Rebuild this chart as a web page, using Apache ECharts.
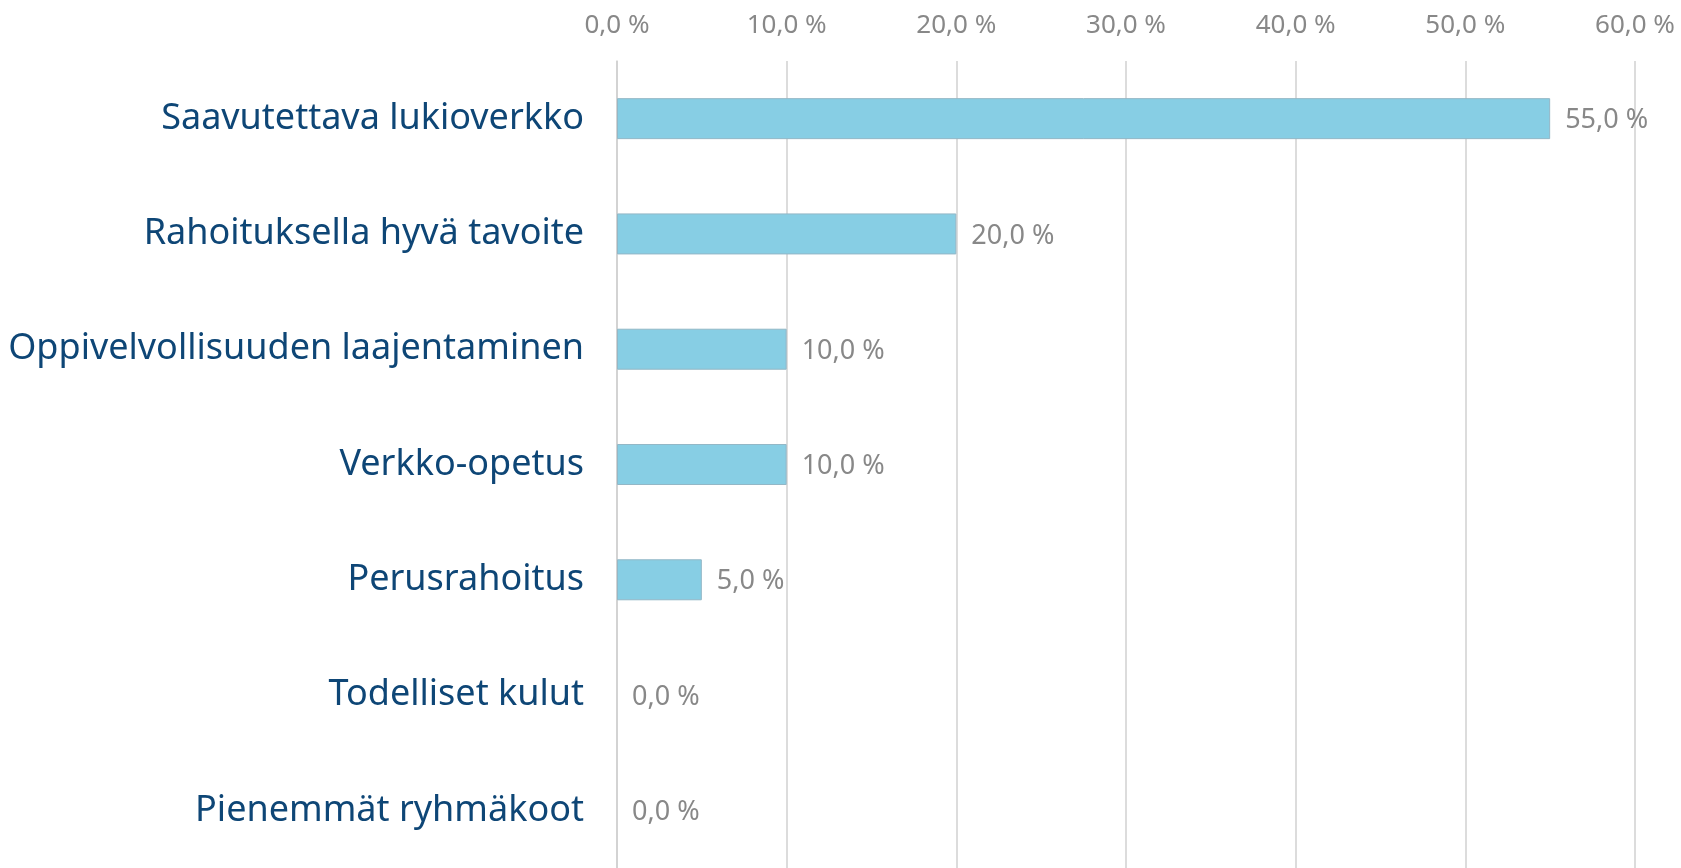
<!DOCTYPE html>
<html>
<head>
<meta charset="utf-8">
<title>Lukiorahoitus</title>
<script src="https://cdn.jsdelivr.net/npm/echarts@6/dist/echarts.min.js"></script>
<style>
  html, body { margin: 0; padding: 0; background: #fff; }
  #chart { width: 1681px; height: 868px; }
</style>
</head>
<body>
<div id="chart"></div>
<script>
const categories = [
  'Saavutettava lukioverkko',
  'Rahoituksella hyvä tavoite',
  'Oppivelvollisuuden laajentaminen',
  'Verkko-opetus',
  'Perusrahoitus',
  'Todelliset kulut',
  'Pienemmät ryhmäkoot'
]
const values = [55, 20, 10, 10, 5, 0, 0]
const tickValues = [0, 10, 20, 30, 40, 50, 60]

// 55 -> "55,0 %"
const pct = (v) => v.toFixed(1).replace('.', ',') + ' %'

const chart = echarts.init(document.getElementById('chart'))
chart.setOption({
  animation: false,
  grid: {
    left: 617,
    right: 46,
    top: 61,
    height: 809,
    containLabel: false,
  },
  xAxis: {
    type: 'value',
    position: 'top',
    min: tickValues[0],
    max: tickValues[tickValues.length - 1],
    interval: 10,
    axisLine: { show: false },
    axisTick: { show: false },
    axisLabel: {
      formatter: pct,
      color: '#888888',
      fontFamily: 'Noto Sans',
      fontSize: 26,
      margin: 22,
    },
    splitLine: {
      lineStyle: { color: '#d0d0d0', width: 1.5 },
    },
  },
  yAxis: {
    type: 'category',
    inverse: true,
    data: categories,
    axisLine: { show: true, lineStyle: { color: '#d0d0d0', width: 1.5 } },
    axisTick: { show: false },
    axisLabel: {
      color: '#0e4676',
      fontFamily: 'Noto Sans',
      fontSize: 36,
      margin: 33,
    },
  },
  series: [
    {
      type: 'bar',
      // no border on empty bars so nothing shows at the zero line
      data: values.map((v) => ({ value: v, itemStyle: { borderWidth: v > 0 ? 1 : 0 } })),
      barWidth: 41,
      itemStyle: {
        color: '#87cee4',
        borderColor: '#93b7c6',
      },
      label: {
        show: true,
        position: 'right',
        distance: 15,
        offset: [0, 2],
        formatter: (p) => pct(p.value),
        color: '#888888',
        fontFamily: 'Noto Sans',
        fontSize: 27,
      },
    },
  ],
})
</script>
</body>
</html>
